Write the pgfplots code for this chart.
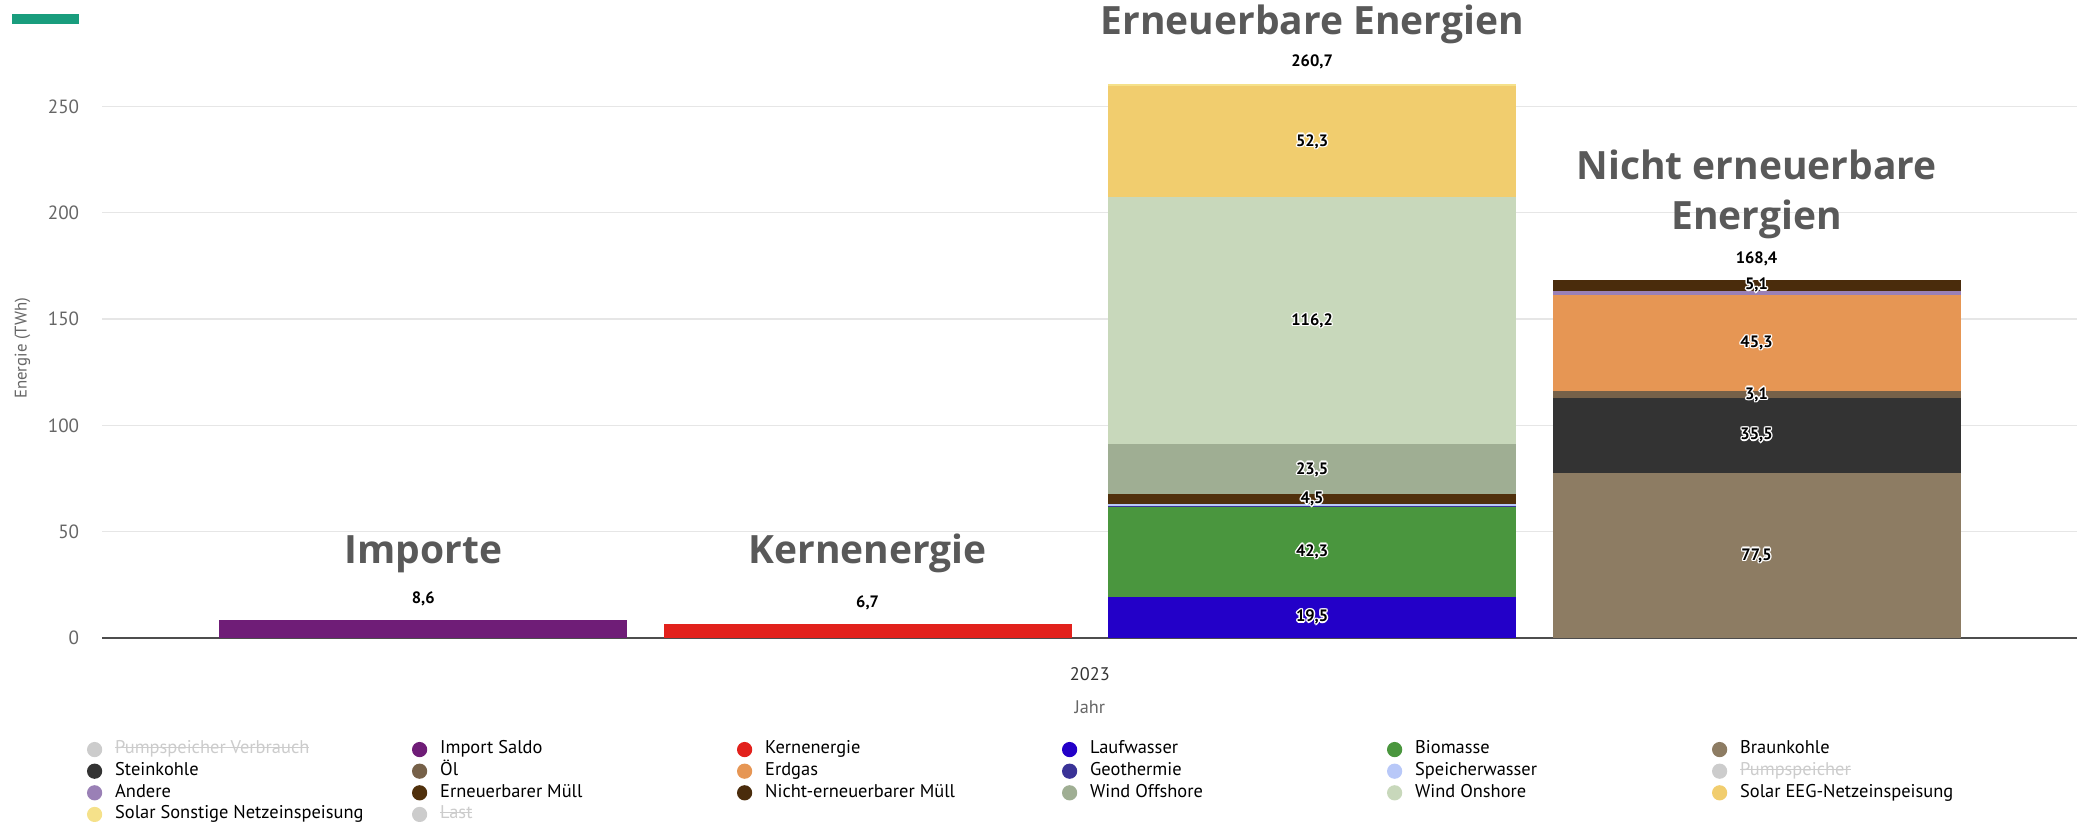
\documentclass[border=0pt]{standalone}
\usepackage{pgfplots}
\pgfplotsset{compat=1.18}
\usepackage{fontspec}
\setmainfont{PT Sans}
\newfontfamily\titlefont{Open Sans}

\definecolor{cImport}{HTML}{6F1D77}
\definecolor{cKern}{HTML}{E2211C}
\definecolor{cLauf}{HTML}{2300C8}
\definecolor{cBio}{HTML}{4A963E}
\definecolor{cBraun}{HTML}{8D7C63}
\definecolor{cStein}{HTML}{333333}
\definecolor{cOel}{HTML}{766149}
\definecolor{cErdgas}{HTML}{E69654}
\definecolor{cGeo}{HTML}{3A3397}
\definecolor{cSpeicher}{HTML}{B8C8F8}
\definecolor{cAndere}{HTML}{9A80B6}
\definecolor{cEMuell}{HTML}{50300C}
\definecolor{cNMuell}{HTML}{4A2C0C}
\definecolor{cWindOff}{HTML}{9FAE93}
\definecolor{cWindOn}{HTML}{C8D8BB}
\definecolor{cSolarEEG}{HTML}{F1CD6E}
\definecolor{cSolarS}{HTML}{F5E18A}
\definecolor{hidgray}{HTML}{CCCCCC}
\definecolor{axisgray}{HTML}{666666}
\definecolor{titlegray}{HTML}{595959}
\definecolor{gridgray}{HTML}{E6E6E6}
\definecolor{axline}{HTML}{4D4D4D}
\definecolor{cTeal}{HTML}{199D7D}

% struck-out grey legend text for hidden series
\newcommand{\hid}[1]{{\color{hidgray}\setbox0\hbox{#1}\rlap{\rule[0.3em]{\wd0}{0.6pt}}\box0}}
\newcommand{\li}[1]{\hspace{7.3pt}\makebox[167.5pt][l]{#1}}
% white outline behind black data labels
\newcommand{\olcopy}[2]{\rlap{\hspace*{#1}\raisebox{#2}{\textcolor{white}{\copy0}}}}
\newcommand{\outl}[1]{\setbox0\hbox{#1}%
  \olcopy{0.8pt}{0pt}\olcopy{-0.8pt}{0pt}\olcopy{0pt}{0.8pt}\olcopy{0pt}{-0.8pt}%
  \olcopy{0.57pt}{0.57pt}\olcopy{-0.57pt}{0.57pt}\olcopy{0.57pt}{-0.57pt}\olcopy{-0.57pt}{-0.57pt}%
  \box0}

\begin{document}
\begin{tikzpicture}
\path[use as bounding box] (0,0) rectangle (1176pt,-463.5pt);
\fill[cTeal] (7pt,-8.1pt) rectangle (44.6pt,-13.5pt);

\begin{axis}[
  at={(57.75pt,-360pt)}, anchor=south west,
  scale only axis, width=1114.5pt, height=360pt,
  ybar stacked, bar width=0.918,
  xmin=-0.722, xmax=3.722, ymin=0, ymax=300,
  axis lines*=left,
  y axis line style={draw=none},
  x axis line style={draw=axline, line width=0.9pt},
  major tick length=0pt,
  ymajorgrids, grid style={draw=gridgray, line width=0.6pt},
  ytick={0,50,...,250},
  xtick={1.5}, xticklabels={2023},
  /pgf/number format/assume math mode=true,
  yticklabel style={font=\fontsize{10.8}{12}\selectfont, text=axisgray, inner sep=0pt, xshift=-12.9pt},
  xticklabel style={font=\fontsize{10.3}{12}\selectfont, text=black!80, anchor=center, inner sep=0pt, yshift=-20.25pt},
  xlabel={Jahr},
  xlabel style={at={([yshift=-39pt]rel axis cs:0.5,0)}, anchor=center, text=axisgray, font=\fontsize{10.3}{12}\selectfont},
  ylabel={Energie (TWh)},
  ylabel style={at={([xshift=-45pt]rel axis cs:0,0.454)}, anchor=center, text=axisgray, font=\fontsize{9.5}{12}\selectfont},
  legend columns=6,
  legend cell align=left,
  legend image code/.code={\fill[#1] (4.3pt,0pt) circle (4.3pt);},
  legend style={at={(-0.00776,-0.158)}, anchor=north west, draw=none, fill=none,
    inner sep=0pt, outer sep=0pt, font=\fontsize{10.4}{12}\selectfont,
    nodes={inner sep=0pt, text height=8.5pt, text depth=3.7pt},
    row sep=0pt, column sep=0pt},
]
\addlegendimage{fill=hidgray, draw=none}\addlegendentry{\li{\hid{Pumpspeicher Verbrauch}}}
\addplot[fill=cImport, draw=none] coordinates {(0,8.6) (1,0) (2,0) (3,0)};
\addlegendentry{\li{Import Saldo}}
\addplot[fill=cKern, draw=none] coordinates {(0,0) (1,6.7) (2,0) (3,0)};
\addlegendentry{\li{Kernenergie}}
\addplot[fill=cLauf, draw=none] coordinates {(0,0) (1,0) (2,19.5) (3,0)};
\addlegendentry{\li{Laufwasser}}
\addplot[fill=cBio, draw=none] coordinates {(0,0) (1,0) (2,42.3) (3,0)};
\addlegendentry{\li{Biomasse}}
\addplot[fill=cBraun, draw=none] coordinates {(0,0) (1,0) (2,0) (3,77.5)};
\addlegendentry{\li{Braunkohle}}
\addplot[fill=cStein, draw=none] coordinates {(0,0) (1,0) (2,0) (3,35.5)};
\addlegendentry{\li{Steinkohle}}
\addplot[fill=cOel, draw=none] coordinates {(0,0) (1,0) (2,0) (3,3.1)};
\addlegendentry{\li{Öl}}
\addplot[fill=cErdgas, draw=none] coordinates {(0,0) (1,0) (2,0) (3,45.3)};
\addlegendentry{\li{Erdgas}}
\addplot[fill=cGeo, draw=none] coordinates {(0,0) (1,0) (2,0.2) (3,0)};
\addlegendentry{\li{Geothermie}}
\addplot[fill=cSpeicher, draw=none] coordinates {(0,0) (1,0) (2,1.0) (3,0)};
\addlegendentry{\li{Speicherwasser}}
\addlegendimage{fill=hidgray, draw=none}\addlegendentry{\li{\hid{Pumpspeicher}}}
\addplot[fill=cAndere, draw=none] coordinates {(0,0) (1,0) (2,0) (3,1.9)};
\addlegendentry{\li{Andere}}
\addplot[fill=cEMuell, draw=none] coordinates {(0,0) (1,0) (2,4.5) (3,0)};
\addlegendentry{\li{Erneuerbarer Müll}}
\addplot[fill=cNMuell, draw=none] coordinates {(0,0) (1,0) (2,0) (3,5.1)};
\addlegendentry{\li{Nicht-erneuerbarer Müll}}
\addplot[fill=cWindOff, draw=none] coordinates {(0,0) (1,0) (2,23.5) (3,0)};
\addlegendentry{\li{Wind Offshore}}
\addplot[fill=cWindOn, draw=none] coordinates {(0,0) (1,0) (2,116.2) (3,0)};
\addlegendentry{\li{Wind Onshore}}
\addplot[fill=cSolarEEG, draw=none] coordinates {(0,0) (1,0) (2,52.3) (3,0)};
\addlegendentry{\li{Solar EEG-Netzeinspeisung}}
\addplot[fill=cSolarS, draw=none] coordinates {(0,0) (1,0) (2,1.2) (3,0)};
\addlegendentry{\li{Solar Sonstige Netzeinspeisung}}
\addlegendimage{fill=hidgray, draw=none}\addlegendentry{\li{\hid{Last}}}
\end{axis}

% labels
\begin{axis}[
  at={(57.75pt,-360pt)}, anchor=south west,
  scale only axis, width=1114.5pt, height=360pt,
  xmin=-0.722, xmax=3.722, ymin=0, ymax=300,
  hide axis, clip=false,
]
% segment values, at the middle of each segment
\addplot[draw=none, mark=none, point meta=explicit symbolic,
  nodes near coords={\outl{\pgfplotspointmeta}},
  every node near coord/.append style={anchor=center, text=black, font=\bfseries\fontsize{9.3}{10}\selectfont}]
  coordinates {
  (2,9.75) [{19,5}] (2,40.65) [{42,3}] (2,65.25) [{4,5}] (2,79.25) [{23,5}]
  (2,149.1) [{116,2}] (2,233.35) [{52,3}]
  (3,38.75) [{77,5}] (3,95.25) [{35,5}] (3,114.55) [{3,1}] (3,138.75) [{45,3}]
  (3,165.85) [{5,1}]
  };
% stack totals
\addplot[draw=none, mark=none, point meta=explicit symbolic,
  nodes near coords={\pgfplotspointmeta},
  every node near coord/.append style={anchor=center, yshift=12pt, text=black, font=\bfseries\fontsize{9.3}{10}\selectfont}]
  coordinates {(0,8.6) [{8,6}] (1,6.7) [{6,7}] (2,260.7) [{260,7}] (3,168.4) [{168,4}]};
% stack titles
\addplot[draw=none, mark=none, point meta=explicit symbolic,
  nodes near coords={\pgfplotspointmeta},
  every node near coord/.append style={anchor=base, inner sep=0pt, text=titlegray, font=\titlefont\bfseries\fontsize{22}{26}\selectfont}]
  coordinates {(0,35.0) [Importe] (1,35.0) [Kernenergie] (2,284.0) [Erneuerbare Energien]
  (3,215.6) [Nicht erneuerbare] (3,191.9) [Energien]};
\end{axis}
\end{tikzpicture}
\end{document}
